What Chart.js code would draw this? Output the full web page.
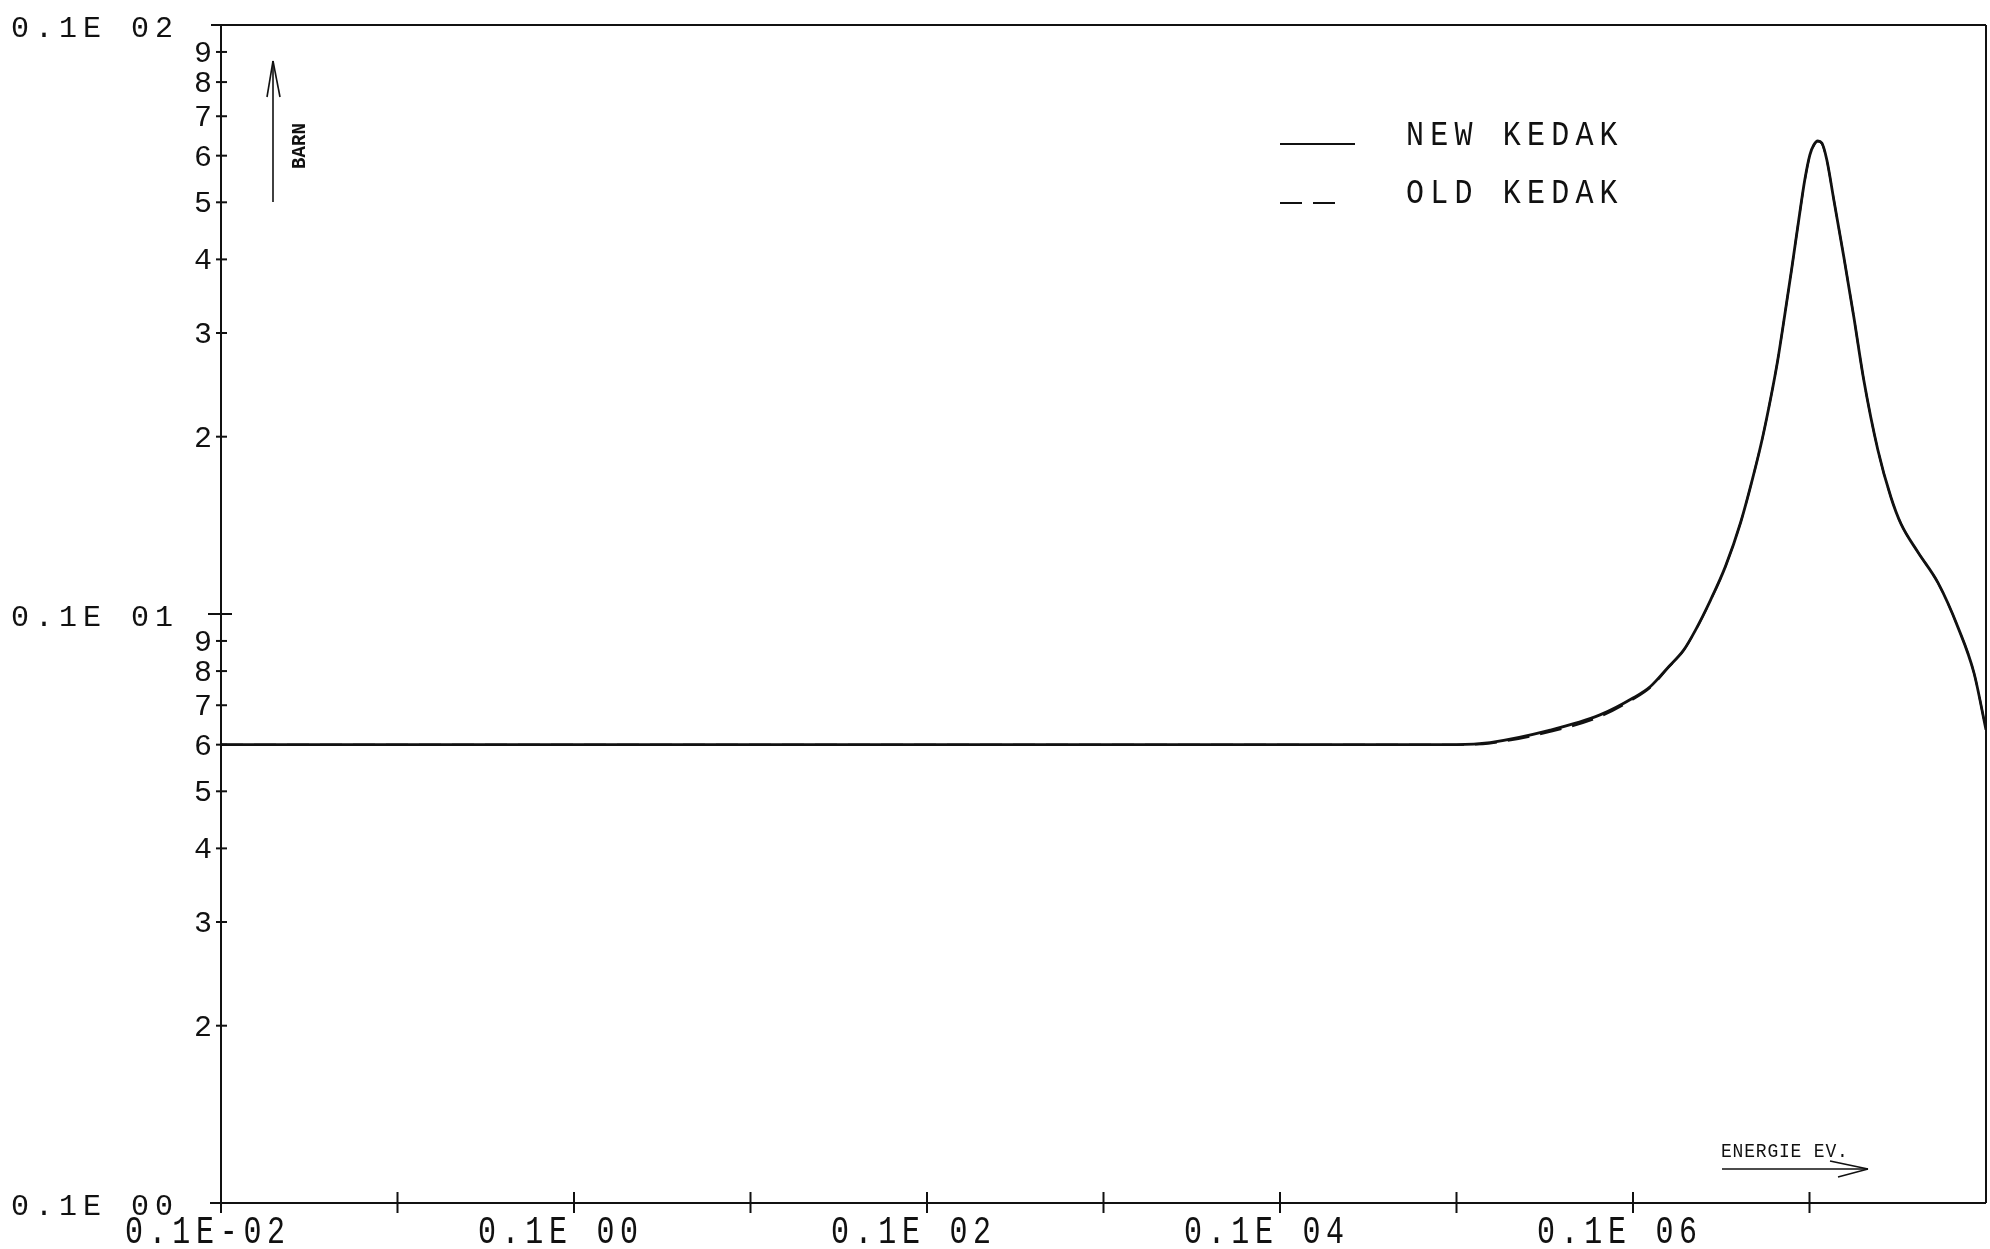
<!DOCTYPE html>
<html>
<head>
<meta charset="utf-8">
<script src="https://cdn.jsdelivr.net/npm/chart.js@4.4.1/dist/chart.umd.min.js"></script>
<style>
html,body{margin:0;padding:0;background:#fff;}
</style>
</head>
<body>
<canvas id="myChart" width="1990" height="1249"></canvas>
<script>
// energie (eV) and cross sections (barn)
var energie = [1e-3, 1e-2, 0.1, 1, 10, 100, 1000, 1e4, 1.55e4, 3.4e4, 6.5e4, 1.0e5, 1.26e5, 1.57e5, 1.94e5,
  2.26e5, 2.75e5, 3.35e5, 4.08e5, 4.77e5, 5.43e5, 6.03e5, 6.61e5, 7.24e5, 7.94e5, 8.69e5, 9.4e5, 1.004e6, 1.057e6, 1.114e6,
  1.175e6, 1.254e6, 1.374e6, 1.565e6, 1.783e6, 2.03e6, 2.44e6, 2.89e6, 3.3e6, 4.11e6, 5.35e6, 6.93e6, 8.55e6, 1.0e7];
var newKedak = [0.06, 0.06, 0.06, 0.06, 0.06, 0.06, 0.06, 0.0600, 0.0605, 0.0635, 0.0674, 0.0720, 0.0754, 0.0810, 0.0869,
  0.0939, 0.1056, 0.1207, 0.1433, 0.1702, 0.1998, 0.2326, 0.2700, 0.3218, 0.3867, 0.4666, 0.5455, 0.6015, 0.6255, 0.6355,
  0.6306, 0.5899, 0.5045, 0.4037, 0.3193, 0.2496, 0.1899, 0.1580, 0.1422, 0.1274, 0.1129, 0.0950, 0.0794, 0.0636];
var oldKedak = [0.06, 0.06, 0.06, 0.06, 0.06, 0.06, 0.06, 0.0600, 0.0603, 0.0631, 0.0669, 0.0716, 0.0751, 0.0808, 0.0868,
  0.0938, 0.1055, 0.1207, 0.1433, 0.1702, 0.1998, 0.2326, 0.2700, 0.3218, 0.3867, 0.4666, 0.5440, 0.6000, 0.6240, 0.6340,
  0.6290, 0.5890, 0.5045, 0.4037, 0.3193, 0.2496, 0.1899, 0.1580, 0.1422, 0.1274, 0.1129, 0.0950, 0.0794, 0.0636];

var xTicks = [1e-3, 1e-2, 0.1, 1, 10, 100, 1000, 1e4, 1e5, 1e6];
var xLabelValues = [1e-3, 0.1, 10, 1000, 1e5];
var xLabels = ['0.1E-02', '0.1E 00', '0.1E 02', '0.1E 04', '0.1E 06'];
var yDecades = [0.01, 0.1, 1];
var yLabels = ['0.1E 00', '0.1E 01', '0.1E 02'];
var yMinor = [2, 3, 4, 5, 6, 7, 8, 9];
var legendNames = ['NEW KEDAK', 'OLD KEDAK'];

var FONT = '"Liberation Mono", "DejaVu Sans Mono", monospace';
var INK = '#111';

function plotText(ctx, s, x, y, size, pitch, sy, align, weight) {
  ctx.save();
  ctx.font = (weight || 'normal') + ' ' + size + 'px ' + FONT;
  ctx.textAlign = 'left';
  ctx.textBaseline = 'alphabetic';
  ctx.fillStyle = INK;
  var cw = ctx.measureText('0').width;
  var total = (s.length - 1) * pitch + cw;
  var x0 = align == 'center' ? x - total / 2 : (align == 'right' ? x - total : x);
  ctx.translate(x0, y);
  ctx.scale(1, sy);
  for (var i = 0; i < s.length; i++) ctx.fillText(s[i], i * pitch, 0);
  ctx.restore();
}

function seg(ctx, x1, y1, x2, y2) {
  ctx.beginPath();
  ctx.moveTo(x1, y1);
  ctx.lineTo(x2, y2);
  ctx.stroke();
}

var plotterAxes = {
  id: 'plotterAxes',
  afterDraw: function (chart) {
    var ctx = chart.ctx, xs = chart.scales.x, ys = chart.scales.y;
    var L = xs.getPixelForValue(1e-3), R = xs.getPixelForValue(1e7);
    var T = ys.getPixelForValue(1), B = ys.getPixelForValue(0.01);
    ctx.save();
    ctx.strokeStyle = INK;
    ctx.lineWidth = 2;
    // frame
    seg(ctx, L - 10, T, R, T);
    seg(ctx, R, T, R, B);
    seg(ctx, L - 11, B, R, B);
    seg(ctx, L, T, L, B + 10);
    // x ticks
    xTicks.forEach(function (v) {
      var px = xs.getPixelForValue(v);
      seg(ctx, px, B - 11, px, B + 10);
    });
    // y ticks
    seg(ctx, L - 13, ys.getPixelForValue(0.1), L + 11, ys.getPixelForValue(0.1));
    [0.01, 0.1].forEach(function (d) {
      yMinor.forEach(function (k) {
        var py = ys.getPixelForValue(d * k);
        seg(ctx, L - 5, py, L + 6, py);
        plotText(ctx, String(k), L - 9, py + 10, 30, 24, 1.0, 'right');
      });
    });
    yDecades.forEach(function (v, i) {
      plotText(ctx, yLabels[i], 11, ys.getPixelForValue(v) + 12, 30, 24, 1.0, 'left');
    });
    xLabelValues.forEach(function (v, i) {
      plotText(ctx, xLabels[i], xs.getPixelForValue(v) - 16, B + 40, 30, 23.7, 1.3, 'center');
    });

    // legend
    var ds = chart.data.datasets;
    ctx.lineWidth = 2;
    seg(ctx, 1280, 144, 1355, 144);
    plotText(ctx, legendNames[0], 1406, 145, 30, 24.2, 1.15, 'left');
    ctx.setLineDash(ds[1].borderDash);
    seg(ctx, 1280, 203, 1337, 203);
    ctx.setLineDash([]);
    plotText(ctx, legendNames[1], 1406, 203, 30, 24.2, 1.15, 'left');

    // BARN arrow
    ctx.lineWidth = 1.6;
    seg(ctx, 273, 202, 273, 61);
    seg(ctx, 267, 97, 273, 61);
    seg(ctx, 273, 61, 280, 97);
    ctx.save();
    ctx.translate(305, 169);
    ctx.rotate(-Math.PI / 2);
    plotText(ctx, 'BARN', 0, 0, 19, 11.5, 1.1, 'left', 'bold');
    ctx.restore();

    // ENERGIE arrow
    plotText(ctx, 'ENERGIE EV.', 1721, 1157, 18, 11.6, 1.15, 'left');
    seg(ctx, 1722, 1169, 1868, 1169);
    seg(ctx, 1830, 1161, 1868, 1169);
    seg(ctx, 1868, 1169, 1838, 1177);
    ctx.restore();
  }
};

function toPoints(xv, yv) {
  return xv.map(function (x, i) { return { x: x, y: yv[i] }; });
}

new Chart(document.getElementById('myChart'), {
  type: 'scatter',
  data: {
    datasets: [{
      label: 'NEW KEDAK',
      data: toPoints(energie, newKedak),
      showLine: true,
      borderColor: INK,
      borderWidth: 2.8,
      pointRadius: 0,
      cubicInterpolationMode: 'monotone'
    }, {
      label: 'OLD KEDAK',
      data: toPoints(energie, oldKedak),
      showLine: true,
      borderColor: INK,
      borderWidth: 2,
      borderDash: [22, 11],
      pointRadius: 0,
      cubicInterpolationMode: 'monotone'
    }]
  },
  options: {
    responsive: false,
    animation: false,
    devicePixelRatio: 1,
    layout: { padding: { left: 221, top: 25, right: 4, bottom: 46 } },
    scales: {
      x: { type: 'logarithmic', min: 1e-3, max: 1e7, display: false },
      y: { type: 'logarithmic', min: 0.01, max: 1, display: false }
    },
    plugins: { legend: { display: false }, tooltip: { enabled: false } }
  },
  plugins: [plotterAxes]
});
</script>
</body>
</html>
